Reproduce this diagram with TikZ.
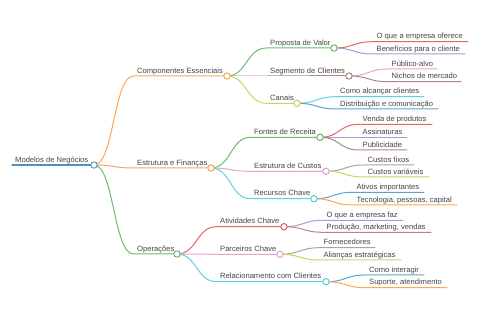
\documentclass[tikz,border=0pt]{standalone}
\usepackage{fontspec}
\setmainfont{Liberation Sans}
\pgfdeclarelayer{fg}
\pgfsetlayers{main,fg}
\definecolor{cBlue}{HTML}{1F77B4}
\definecolor{cOrange}{HTML}{FF7F0E}
\definecolor{cGreen}{HTML}{2CA02C}
\definecolor{cRed}{HTML}{D62728}
\definecolor{cPurple}{HTML}{9467BD}
\definecolor{cBrown}{HTML}{8C564B}
\definecolor{cPink}{HTML}{E377C2}
\definecolor{cGray}{HTML}{7F7F7F}
\definecolor{cOlive}{HTML}{BCBD22}
\definecolor{cCyan}{HTML}{17BECF}
\definecolor{txt}{HTML}{444444}
\tikzset{
  link/.style={line width=1pt, line cap=round},
  lbl/.style={anchor=base west, inner sep=0pt, text=txt, font=\fontsize{7.6pt}{9pt}\selectfont},
  dot/.style={circle, fill=white, line width=0.9pt, inner sep=0pt, minimum size=6.4pt},
}
% leaf: parent, name, xcurve, y, xend, color, text
\newcommand{\mmleaf}[7]{%
  \coordinate (#2s) at (#3,#4);
  \coordinate (#2e) at (#5,#4);
  \draw[link,draw=#6!70] (#1) .. controls +(20,0) and +(-20,0) .. (#2s) -- (#2e);
  \node[lbl] (#2) at ([xshift=3.5pt,yshift=2.8pt]#2s) {#7};
}
% branch: parent, name, xcurve, y, xcircle, color, text
\newcommand{\mmbranch}[7]{%
  \coordinate (#2s) at (#3,#4);
  \coordinate (#2) at (#5,#4);
  \draw[link,draw=#6!70] (#1) .. controls +(20,0) and +(-20,0) .. (#2s) -- (#2);
  \node[lbl] (#2t) at ([xshift=3.5pt,yshift=2.8pt]#2s) {#7};
  \begin{pgfonlayer}{fg}
    \node[dot,draw=#6!80] (#2dot) at (#2) {};
  \end{pgfonlayer}
}
\begin{document}
\begin{tikzpicture}[x=1pt,y=-1pt]
\useasboundingbox (0,0) rectangle (480,320);
% root
\coordinate (R0) at (12,165);
\coordinate (R) at (94,165);
\draw[link,line width=1.2pt,draw=cBlue!80] (R0) -- (R);
\node[lbl] (Rt) at (15,162.2) {Modelos de Negócios};
\begin{pgfonlayer}{fg}
  \node[dot,draw=cBlue!80] (Rdot) at (R) {};
\end{pgfonlayer}
% level 1
\mmbranch{R}{A}{133.5}{76}{227}{cOrange}{Componentes Essenciais}
\mmbranch{R}{B}{133.5}{168}{211}{cOrange}{Estrutura e Finanças}
\mmbranch{R}{C}{133.5}{254}{177}{cGreen}{Operações}
% level 2 under A
\mmbranch{A}{A1}{266.5}{48}{334}{cGreen}{Proposta de Valor}
\mmbranch{A}{A2}{266.5}{76}{349}{cBrown}{Segmento de Clientes}
\mmbranch{A}{A3}{266.5}{103.3}{297}{cOlive}{Canais}
% level 3 under A
\mmleaf{A1}{A11}{373}{41.7}{468}{cRed}{O que a empresa oferece}
\mmleaf{A1}{A12}{373}{54}{465}{cPurple}{Benefícios para o cliente}
\mmleaf{A2}{A21}{388}{69}{437}{cPink}{Público-alvo}
\mmleaf{A2}{A22}{388}{81.7}{461}{cBrown}{Nichos de mercado}
\mmleaf{A3}{A31}{336.5}{96.7}{424}{cCyan}{Como alcançar clientes}
\mmleaf{A3}{A32}{336.5}{109}{438}{cBlue}{Distribuição e comunicação}
% level 2 under B
\mmbranch{B}{B1}{250.5}{137.3}{320}{cGreen}{Fontes de Receita}
\mmbranch{B}{B2}{250.5}{171.3}{326}{cPink}{Estrutura de Custos}
\mmbranch{B}{B3}{250.5}{198.7}{314}{cCyan}{Recursos Chave}
% level 3 under B
\mmleaf{B1}{B11}{359}{124.3}{432}{cRed}{Venda de produtos}
\mmleaf{B1}{B12}{359}{137.3}{407}{cPurple}{Assinaturas}
\mmleaf{B1}{B13}{359}{150}{407}{cBrown}{Publicidade}
\mmleaf{B2}{B21}{364}{165}{414}{cGray}{Custos fixos}
\mmleaf{B2}{B22}{364}{177}{429}{cOlive}{Custos variáveis}
\mmleaf{B3}{B31}{353}{192.3}{424}{cBlue}{Ativos importantes}
\mmleaf{B3}{B32}{353}{205}{457}{cOrange}{Tecnologia, pessoas, capital}
% level 2 under C
\mmbranch{C}{C1}{216.5}{226.7}{284}{cRed}{Atividades Chave}
\mmbranch{C}{C2}{216.5}{254.3}{280}{cPink}{Parceiros Chave}
\mmbranch{C}{C3}{216.5}{281.7}{326}{cCyan}{Relacionamento com Clientes}
% level 3 under C
\mmleaf{C1}{C11}{323}{220.3}{403}{cPurple}{O que a empresa faz}
\mmleaf{C1}{C12}{323}{232.3}{431}{cBrown}{Produção, marketing, vendas}
\mmleaf{C2}{C21}{320}{247.7}{375}{cGray}{Fornecedores}
\mmleaf{C2}{C22}{320}{260}{401}{cOlive}{Alianças estratégicas}
\mmleaf{C3}{C31}{365.5}{275}{424}{cBlue}{Como interagir}
\mmleaf{C3}{C32}{365.5}{287.7}{447}{cOrange}{Suporte, atendimento}
\end{tikzpicture}
\end{document}
